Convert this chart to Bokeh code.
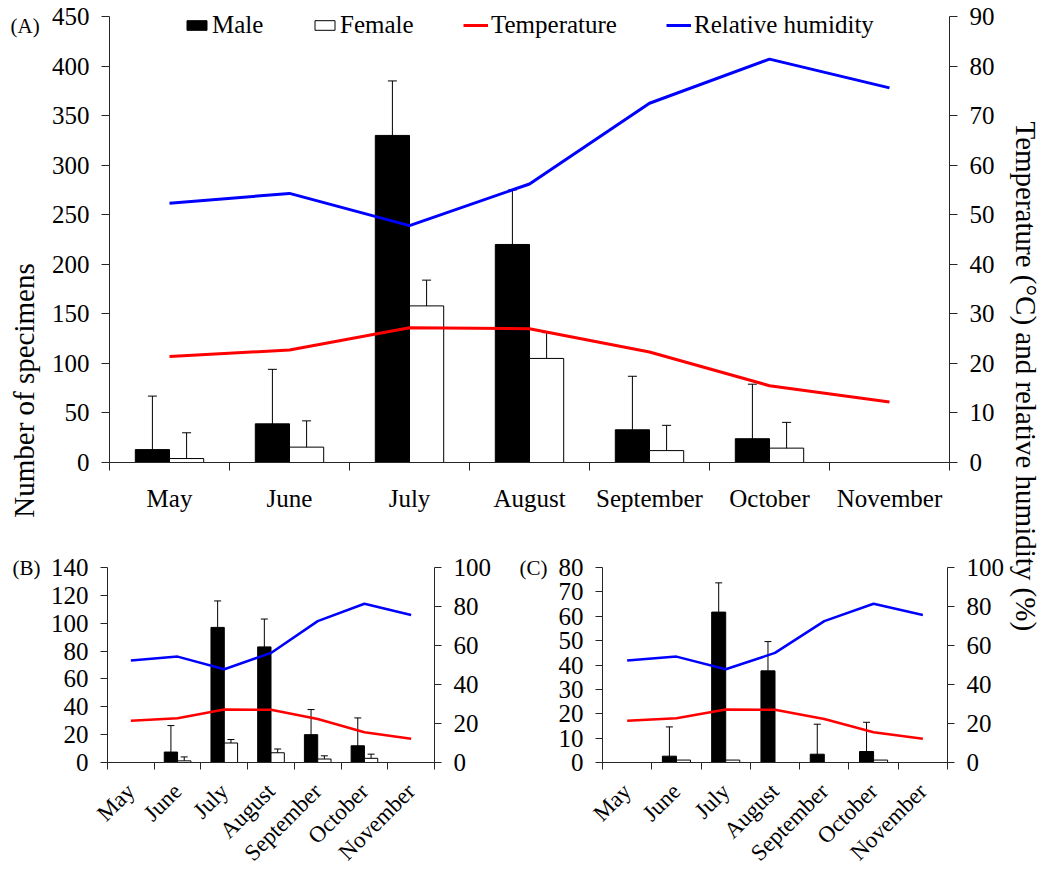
import math
import numpy as np
from bokeh.plotting import figure
from bokeh.models import (Range1d, LinearAxis, FixedTicker, Whisker, TeeHead,
                          ColumnDataSource, Legend, LegendItem, Label)
from bokeh.layouts import row, column
from bokeh.embed import file_html
from bokeh.resources import INLINE

# ---------------- data ----------------
months = ["May", "June", "July", "August", "September", "October", "November"]

temperature = [21.4, 22.7, 27.2, 27.0, 22.3, 15.5, 12.2]
humidity = [52.3, 54.3, 47.8, 56.2, 72.5, 81.4, 75.6]

A_male = [13, 39, 330, 220, 33, 24, 0]
A_male_err = [54, 55, 55, 55, 54, 55, 0]
A_female = [4, 15.5, 158, 105, 12, 14.5, 0]
A_female_err = [26, 26.5, 26, 26, 25.5, 26, 0]

B_male = [0, 7.5, 97, 83, 20, 12, 0]
B_male_err = [0, 19, 19, 20, 18, 20, 0]
B_female = [0, 1.2, 14, 7, 2.5, 3, 0]
B_female_err = [0, 2.8, 2.5, 2.7, 2.3, 3, 0]

C_male = [0, 2.6, 61.7, 37.6, 3.4, 4.5, 0]
C_male_err = [0, 12, 12, 12, 12.3, 12, 0]
C_female = [0, 1, 1, 0, 0, 1, 0]
C_female_err = [0, 0, 0, 0, 0, 0, 0]

A_left_ticks = list(range(0, 451, 50))
A_right_ticks = list(range(0, 91, 10))
B_left_ticks = list(range(0, 141, 20))
C_left_ticks = list(range(0, 81, 10))
BC_right_ticks = list(range(0, 101, 20))

legend_labels = ["Male", "Female", "Temperature", "Relative humidity"]

FONT = "Liberation Serif"
AXC = "#262626"
BW = 0.285


def style_axis(ax, size="25px", tick_out=8, standoff=12):
    ax.axis_line_color = AXC
    ax.axis_line_width = 1
    ax.major_tick_line_color = AXC
    ax.minor_tick_line_color = AXC
    ax.major_tick_out = tick_out
    ax.major_tick_in = 0
    ax.minor_tick_in = 0
    ax.minor_tick_out = 0
    ax.major_label_text_font = FONT
    ax.major_label_text_font_size = size
    ax.major_label_text_color = "black"
    ax.major_label_standoff = standoff


def make_panel(width, height, bl, br, bt, bb, ylim, lticks, rlim, rticks,
               male, male_err, female, female_err, rotate, lw, cap, xstand, xsize):
    n = len(months)
    centers = np.arange(n) + 0.5
    bounds = [float(b) for b in range(n + 1)]
    p = figure(width=width, height=height, x_range=Range1d(0, n), y_range=Range1d(0, ylim),
               output_backend="svg", toolbar_location=None,
               min_border_left=bl, min_border_right=br, min_border_top=bt, min_border_bottom=bb)
    p.extra_y_ranges = {"r": Range1d(0, rlim)}
    p.xgrid.visible = False
    p.ygrid.visible = False
    p.outline_line_color = None
    p.background_fill_color = "white"
    p.border_fill_color = "white"

    xa = p.xaxis[0]
    style_axis(xa, size=xsize, standoff=xstand)
    xa.ticker = FixedTicker(ticks=[float(c) for c in centers], minor_ticks=bounds)
    xa.major_tick_out = 0
    xa.minor_tick_out = 8 if not rotate else 7
    xa.major_label_overrides = {float(c): m for c, m in zip(centers, months)}
    if rotate:
        xa.major_label_orientation = math.pi / 4

    ya = p.yaxis[0]
    style_axis(ya, tick_out=8 if not rotate else 7)
    ya.ticker = FixedTicker(ticks=lticks)

    ra = LinearAxis(y_range_name="r", ticker=FixedTicker(ticks=rticks))
    style_axis(ra, tick_out=8 if not rotate else 7)
    p.add_layout(ra, "right")

    xm = centers - BW / 2
    xf = centers + BW / 2
    rm = p.vbar(x=xm, top=male, width=BW, fill_color="black", line_color="black", line_width=1)
    rf = p.vbar(x=xf, top=female, width=BW, fill_color="white", line_color="black", line_width=1)

    for xs, vals, errs in ((xm, male, male_err), (xf, female, female_err)):
        sel = [i for i in range(n) if errs[i] > 0]
        if not sel:
            continue
        src = ColumnDataSource(dict(
            x=[float(xs[i]) for i in sel],
            upper=[vals[i] + errs[i] for i in sel],
            lower=[max(0.0, vals[i] - errs[i]) for i in sel]))
        w = Whisker(source=src, base="x", upper="upper", lower="lower", dimension="height",
                    line_color="black", line_width=1,
                    upper_head=TeeHead(size=cap, line_color="black", line_width=1),
                    lower_head=TeeHead(size=cap, line_color="black", line_width=1))
        p.add_layout(w)

    rt = p.line(centers, temperature, y_range_name="r", line_color="#FF0000", line_width=lw)
    rh = p.line(centers, humidity, y_range_name="r", line_color="#0000FF", line_width=lw)
    return p, rm, rf, rt, rh


def strip(width, height):
    s = figure(width=width, height=height, x_range=Range1d(0, width),
               y_range=Range1d(height, 0),
               output_backend="svg", toolbar_location=None, x_axis_type=None, y_axis_type=None,
               min_border=0, min_border_left=0, min_border_right=0,
               min_border_top=0, min_border_bottom=0)
    s.grid.visible = False
    s.outline_line_color = None
    return s


# Panel A
pA, rm, rf, rt, rh = make_panel(963, 540, 65, 58, 16, 78, 450, A_left_ticks, 90, A_right_ticks,
                                A_male, A_male_err, A_female, A_female_err, False, 3, 9, 14, "25px")
for lab, rend, xo in zip(legend_labels, [rm, rf, rt, rh], [75, 203, 354, 557]):
    lg = Legend(items=[LegendItem(label=lab, renderers=[rend])],
                orientation="horizontal", location=(xo, 422),
                glyph_width=25, glyph_height=12, label_standoff=3, label_height=30,
                padding=0, margin=0, border_line_color=None, background_fill_alpha=0,
                label_text_font=FONT, label_text_font_size="25px", label_text_color="black")
    pA.add_layout(lg)

# Panel B
pB, *_ = make_panel(461, 339, 63, 71, 27, 117, 140, B_left_ticks, 100, BC_right_ticks,
                    B_male, B_male_err, B_female, B_female_err, True, 2.5, 7, 18, "23px")

# strip holding "(C)" (wrapped in a column so its frame is not aligned with B and C)
pCL = strip(48, 339)
pCL.add_layout(Label(x=14, y=27, text="(C)", text_align="left", text_baseline="middle",
                     text_font=FONT, text_font_size="21px", text_color="black"))

# Panel C
pC, *_ = make_panel(454, 339, 49, 58, 27, 117, 80, C_left_ticks, 100, BC_right_ticks,
                    C_male, C_male_err, C_female, C_female_err, True, 2.5, 7, 18, "23px")

# Left label strip
pL = strip(44, 879)
pL.add_layout(Label(x=23, y=390, text="Number of specimens", angle=math.pi / 2,
                    text_align="center", text_baseline="middle",
                    text_font=FONT, text_font_size="29px", text_color="black"))
pL.add_layout(Label(x=10, y=25, text="(A)", text_align="left", text_baseline="middle",
                    text_font=FONT, text_font_size="21px", text_color="black"))
pL.add_layout(Label(x=12, y=567, text="(B)", text_align="left", text_baseline="middle",
                    text_font=FONT, text_font_size="21px", text_color="black"))

# Right label strip
pR = strip(34, 879)
pR.add_layout(Label(x=18, y=383, text="Temperature  (°C) and relative humidity  (%)",
                    angle=-math.pi / 2, text_align="center", text_baseline="middle",
                    text_font=FONT, text_font_size="29px", text_color="black"))

layout = row(pL, column(pA, row(pB, column(pCL), pC)), pR)

with open("out.html", "w") as f:
    f.write(file_html(layout, INLINE))
